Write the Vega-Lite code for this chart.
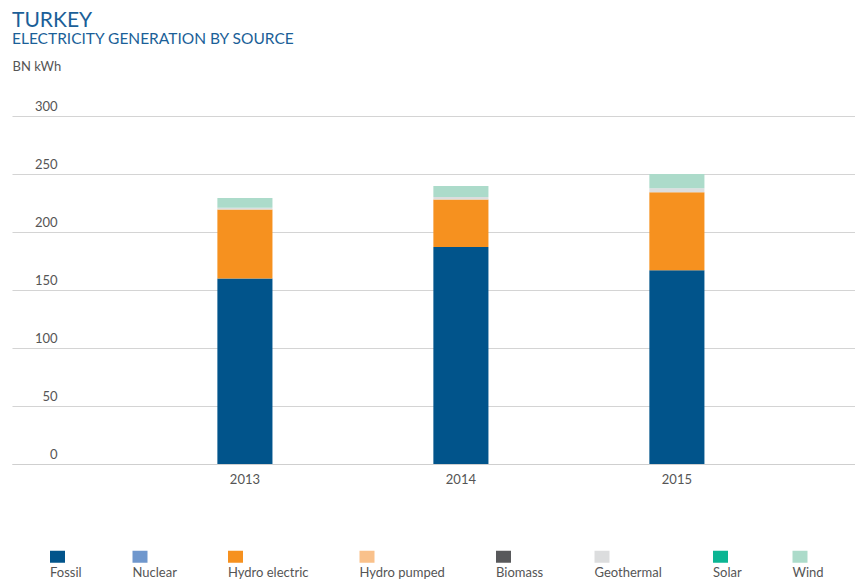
{
  "$schema": "https://vega.github.io/schema/vega-lite/v6.json",
  "autosize": {"type": "none"},
  "padding": {"left": 12, "top": 116, "right": 0, "bottom": 116},
  "width": 843,
  "height": 348,
  "background": "white",
  "title": {
    "text": "TURKEY",
    "subtitle": "ELECTRICITY GENERATION BY SOURCE",
    "anchor": "start",
    "frame": "group",
    "font": "Lato",
    "fontSize": 21,
    "fontWeight": "normal",
    "color": "#1b5f98",
    "subtitleFont": "Lato",
    "subtitleFontSize": 15.5,
    "subtitleColor": "#1b5f98",
    "subtitlePadding": 1,
    "offset": 13
  },
  "data": {
    "values": [
      {"year": "2013", "source": "Fossil", "value": 160},
      {"year": "2013", "source": "Hydro electric", "value": 59.5},
      {"year": "2013", "source": "Geothermal", "value": 1.3},
      {"year": "2013", "source": "Wind", "value": 8.5},
      {"year": "2014", "source": "Fossil", "value": 187},
      {"year": "2014", "source": "Hydro electric", "value": 41},
      {"year": "2014", "source": "Geothermal", "value": 2.2},
      {"year": "2014", "source": "Wind", "value": 9.5},
      {"year": "2015", "source": "Fossil", "value": 167},
      {"year": "2015", "source": "Hydro electric", "value": 67.3},
      {"year": "2015", "source": "Geothermal", "value": 3.5},
      {"year": "2015", "source": "Wind", "value": 12.2}
    ]
  },
  "transform": [
    {"calculate": "indexof(['Fossil','Nuclear','Hydro electric','Hydro pumped','Biomass','Geothermal','Solar','Wind'], datum.source)", "as": "stackOrder"}
  ],
  "mark": {"type": "bar"},
  "encoding": {
    "x": {
      "field": "year",
      "type": "nominal",
      "scale": {"paddingInner": 0.745, "paddingOuter": 0.824, "align": 0.577},
      "axis": {
        "title": null,
        "labelAngle": 0,
        "ticks": false,
        "domainColor": "#cfcfcf",
        "labelFont": "Lato",
        "labelFontSize": 13,
        "labelColor": "#555555",
        "labelPadding": 9
      }
    },
    "y": {
      "field": "value",
      "type": "quantitative",
      "aggregate": "sum",
      "stack": "zero",
      "scale": {"domain": [0, 300]},
      "axis": {
        "values": [0, 50, 100, 150, 200, 250, 300],
        "title": "BN kWh",
        "titleAngle": 0,
        "titleAlign": "left",
        "titleBaseline": "bottom",
        "titleX": 0,
        "titleY": -43,
        "titleFont": "Lato",
        "titleFontSize": 13,
        "titleFontWeight": "normal",
        "titleColor": "#555555",
        "domain": false,
        "ticks": false,
        "gridColor": "#d4d4d4",
        "gridWidth": 1.2,
        "labelAlign": "right",
        "labelBaseline": "bottom",
        "labelPadding": -45,
        "labelOffset": -3,
        "labelFont": "Lato",
        "labelFontSize": 13,
        "labelColor": "#555555"
      }
    },
    "color": {
      "field": "source",
      "type": "nominal",
      "scale": {
        "domain": ["Fossil", "Nuclear", "Hydro electric", "Hydro pumped", "Biomass", "Geothermal", "Solar", "Wind"],
        "range": ["#01548b", "#6f97cd", "#f6911f", "#f9c18b", "#58595b", "#dcddde", "#0bb593", "#acdbca"]
      },
      "legend": {
        "title": null,
        "orient": "none",
        "legendX": 38,
        "legendY": 433,
        "direction": "horizontal",
        "columns": 8,
        "columnPadding": 50.5,
        "symbolType": "M-1,-0.8H1V0.8H-1Z",
        "symbolSize": 225,
        "symbolStrokeWidth": 0,
        "labelOffset": -15,
        "labelFont": "Lato",
        "labelFontSize": 13,
        "labelColor": "#555555",
        "labelBaseline": "middle",
        "encoding": {
          "labels": {"dy": {"value": 16}}
        }
      }
    },
    "order": {"field": "stackOrder", "sort": "ascending"}
  },
  "config": {"view": {"stroke": null}}
}
